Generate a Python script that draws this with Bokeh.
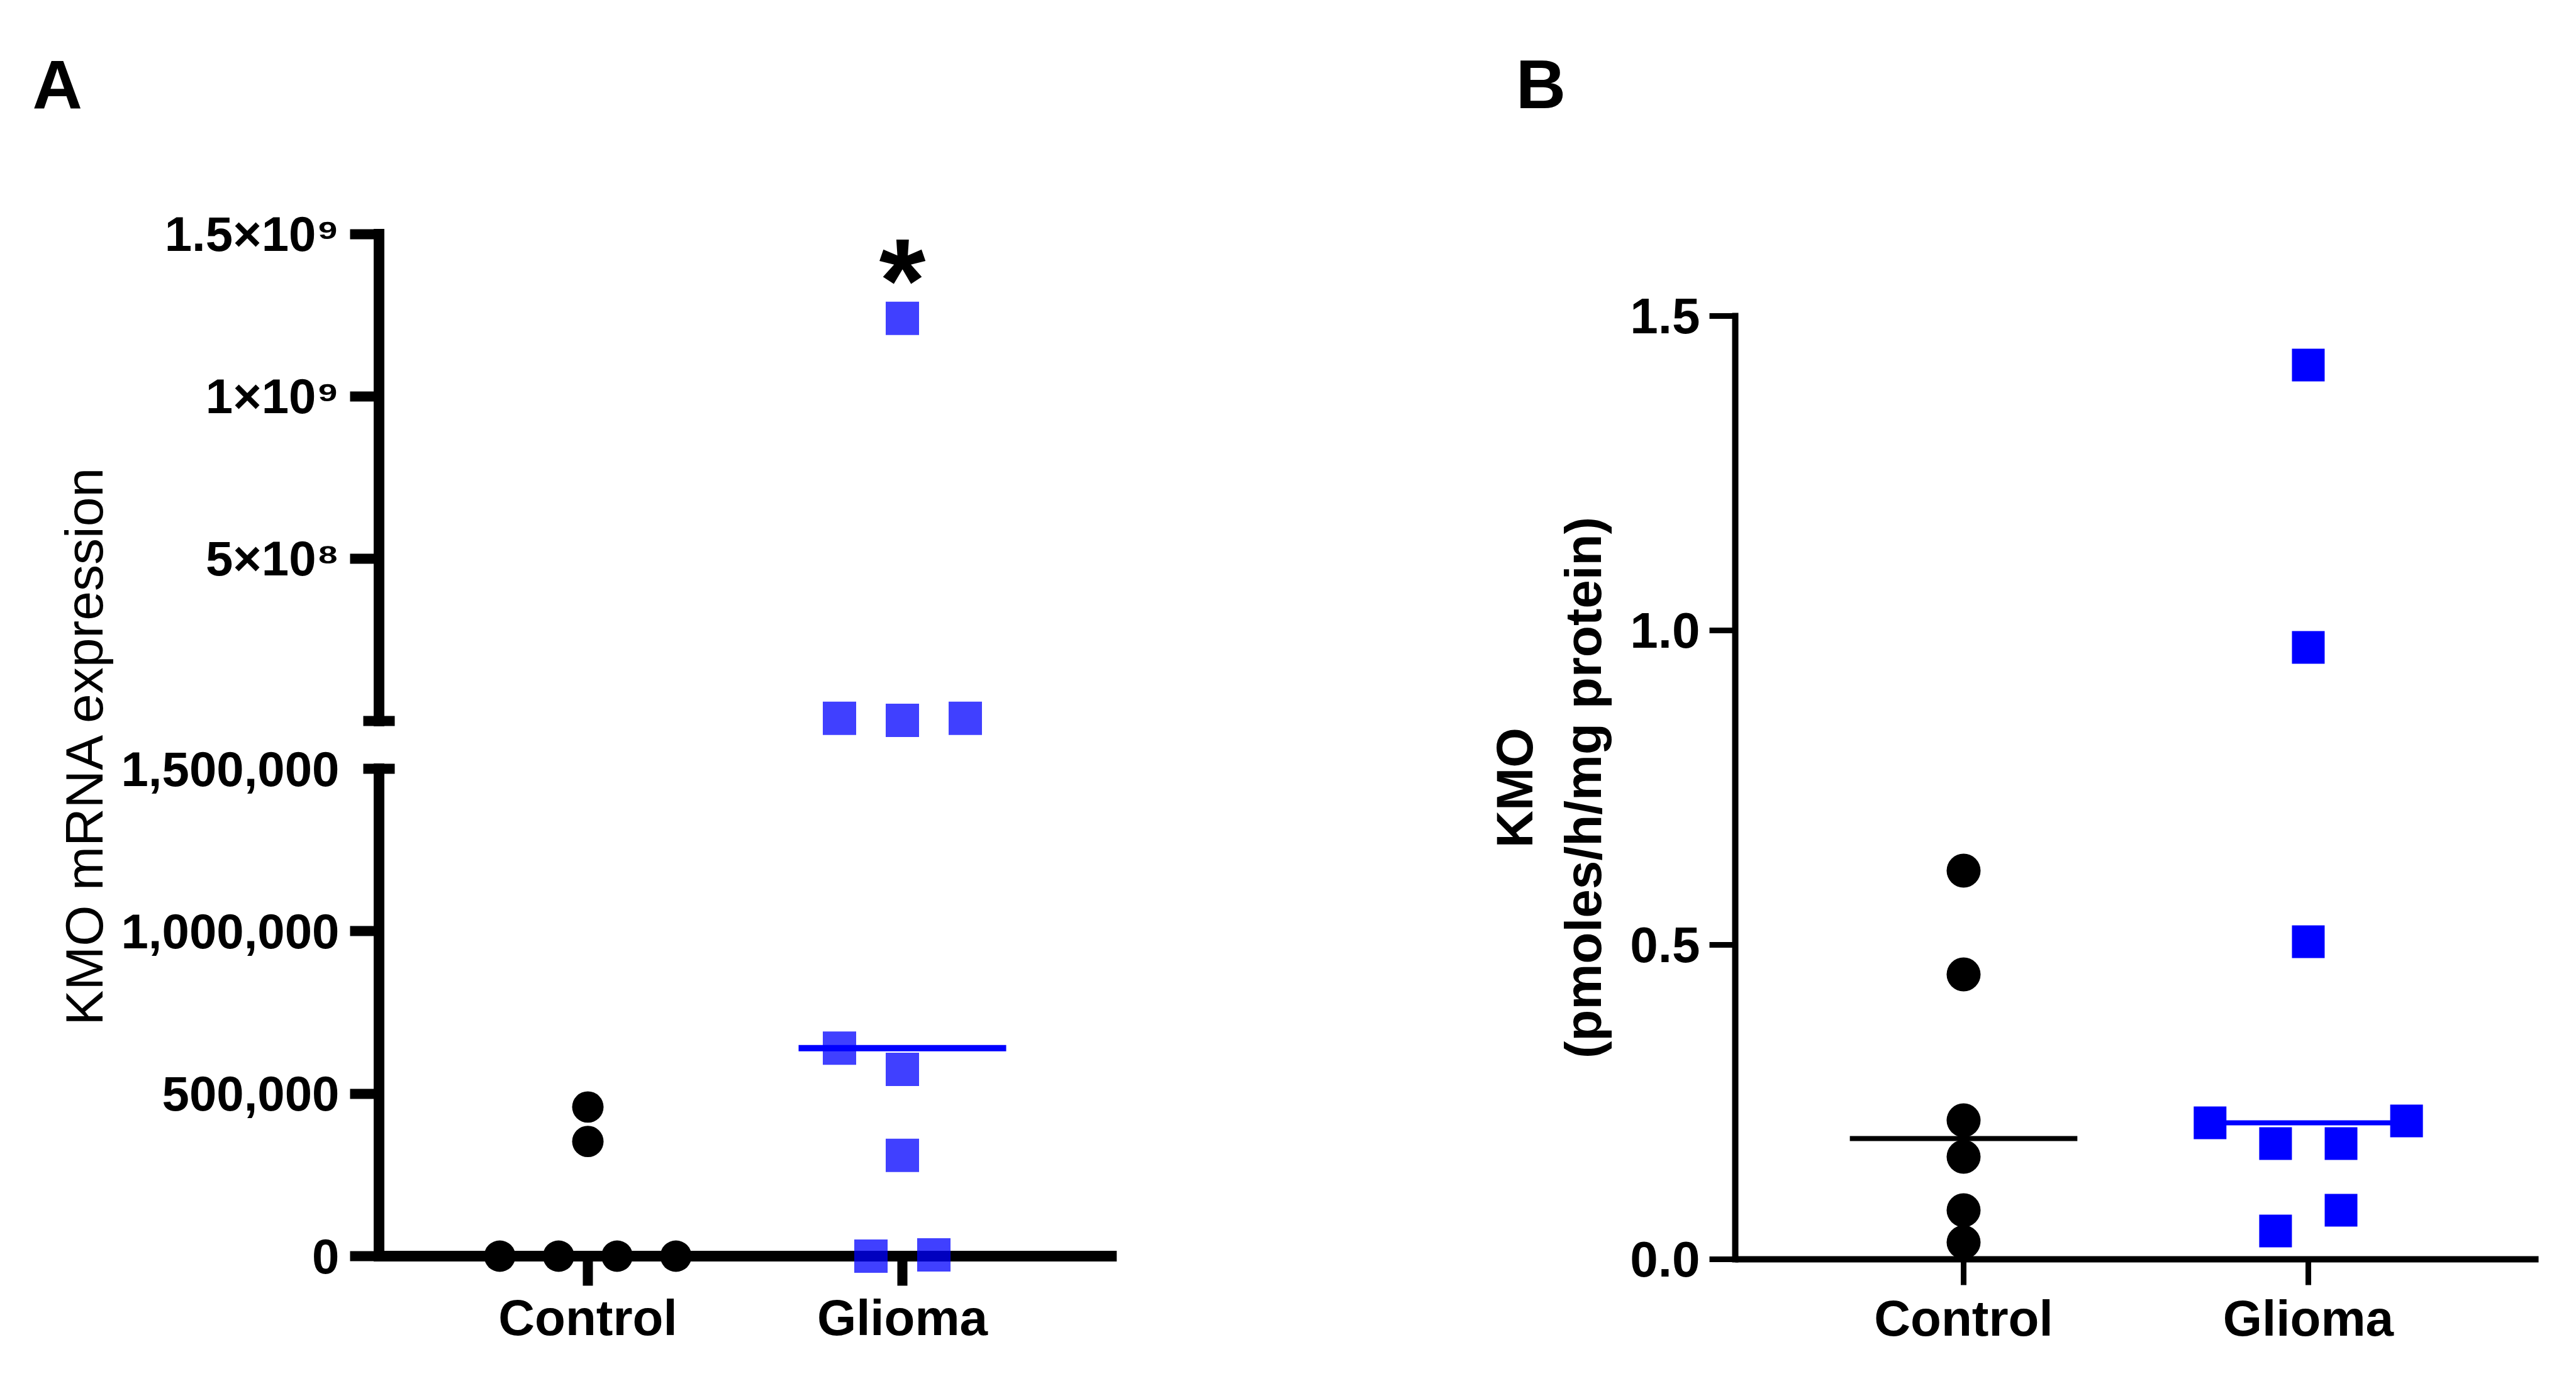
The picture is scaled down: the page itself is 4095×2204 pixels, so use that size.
import numpy as np
from bokeh.plotting import figure
from bokeh.models import (Range1d, LinearAxis, FixedTicker, NumeralTickFormatter,
                          PrintfTickFormatter, Label, ColumnDataSource, Plot)
from bokeh.core.properties import value
from bokeh.layouts import row
from bokeh.embed import file_html
from bokeh.resources import INLINE

FONT = "Liberation Sans"
BLUE = "#0000FF"

# ---------------- data ----------------
categories = ["Control", "Glioma"]

# Panel A (broken y axis)
a_control_values = [0, 0, 0, 0, 353000, 459000]
a_control_offsets = [-0.28, -0.093, 0.093, 0.28, 0.0, 0.0]
a_glioma_upper_values = [1.241e9, 8e6, 2e6, 8e6]
a_glioma_upper_offsets = [0.0, -0.2, 0.0, 0.2]
a_glioma_lower_values = [640000, 575000, 310000, 0, 4000]
a_glioma_lower_offsets = [-0.2, 0.0, 0.0, -0.1, 0.1]
a_lower_ticks = [0, 500000, 1000000]
a_break_low = 1500000
a_break_up = 0
a_upper_ticks = [5e8, 1e9, 1.5e9]
a_upper_tick_labels = ["5×10⁸", "1×10⁹", "1.5×10⁹"]

# Panel B
b_control_values = [0.618, 0.453, 0.221, 0.163, 0.078, 0.027]
b_glioma_values = [1.422, 0.973, 0.505, 0.217, 0.184, 0.184, 0.220, 0.045, 0.078]
b_glioma_offsets = [0, 0, 0, -0.285, -0.095, 0.095, 0.285, -0.095, 0.095]
b_ticks = [0.0, 0.5, 1.0, 1.5]

a_medians = [float(np.median(a_control_values)),
             float(np.median(a_glioma_upper_values + a_glioma_lower_values))]
b_medians = [float(np.median(b_control_values)), float(np.median(b_glioma_values))]
MED_HALF = 0.33

FA = {"frame_align": False} if "frame_align" in Plot.properties() else {}


def style_axis(ax, lw, tick_out, standoff, font_size):
    ax.axis_line_width = lw
    ax.axis_line_color = "black"
    ax.major_tick_line_width = lw - 1
    ax.major_tick_line_color = "black"
    ax.major_tick_out = tick_out
    ax.major_tick_in = 0
    ax.minor_tick_line_color = None
    ax.major_label_standoff = standoff
    ax.major_label_text_font = FONT
    ax.major_label_text_font_style = "bold"
    ax.major_label_text_font_size = font_size
    ax.major_label_text_color = "black"


# ---------------- Panel A ----------------
XA_AX = 0.336
XA_END = 2.682
pa = figure(width=2240, height=2177, x_range=Range1d(-0.788, XA_END),
            y_range=Range1d(-3.348e5, 3.7877e6), output_backend="svg",
            toolbar_location=None, min_border_left=40, min_border_right=465,
            min_border_top=40, min_border_bottom=7, **FA)
pa.extra_y_ranges = {"upper": Range1d(-1.9845e9, 2.1434e9)}
pa.outline_line_color = None
pa.xgrid.visible = False
pa.ygrid.visible = False

ya = pa.yaxis[0]
ya.fixed_location = XA_AX
ya.ticker = FixedTicker(ticks=a_lower_ticks)
ya.formatter = NumeralTickFormatter(format="0,0")
ya.bounds = (0, a_break_low)
style_axis(ya, 17, 46, 17, "78px")
ya.axis_line_cap = "square"

# lower break cap with its label
cap_low = LinearAxis(fixed_location=XA_AX, ticker=FixedTicker(ticks=[a_break_low]),
                     formatter=NumeralTickFormatter(format="0,0"))
style_axis(cap_low, 17, 25, 38, "78px")
cap_low.major_tick_in = 25
cap_low.axis_line_color = None
pa.add_layout(cap_low, "left")

# upper segment axis
ya_up = LinearAxis(y_range_name="upper", fixed_location=XA_AX,
                   ticker=FixedTicker(ticks=a_upper_ticks),
                   major_label_overrides=dict(zip(a_upper_ticks, a_upper_tick_labels)))
ya_up.bounds = (a_break_up, 1.5e9)
style_axis(ya_up, 17, 46, 17, "78px")
ya_up.axis_line_cap = "square"
pa.add_layout(ya_up, "left")

cap_up = LinearAxis(y_range_name="upper", fixed_location=XA_AX,
                    ticker=FixedTicker(ticks=[a_break_up]))
style_axis(cap_up, 17, 25, 10, "78px")
cap_up.major_tick_in = 25
cap_up.axis_line_color = None
cap_up.major_label_text_color = None
pa.add_layout(cap_up, "left")

# axis carrying the y title, spanning the whole broken axis
title_ax = LinearAxis(fixed_location=XA_AX, ticker=FixedTicker(ticks=[]),
                      bounds=(0, 3.145e6))
title_ax.axis_line_color = None
title_ax.major_tick_line_color = None
title_ax.minor_tick_line_color = None
title_ax.major_label_text_color = None
title_ax.major_tick_out = 0
title_ax.axis_label = "KMO mRNA expression"
title_ax.axis_label_text_font = FONT
title_ax.axis_label_text_font_style = "normal"
title_ax.axis_label_text_font_size = "84px"
title_ax.axis_label_text_color = "black"
title_ax.axis_label_standoff = 422
pa.add_layout(title_ax, "left")

xa = pa.xaxis[0]
xa.fixed_location = 0
xa.ticker = FixedTicker(ticks=[1, 2])
xa.major_label_overrides = {1: categories[0], 2: categories[1]}
xa.bounds = (XA_AX, XA_END)
style_axis(xa, 17, 47, 6, "80px")

src_ac = ColumnDataSource(dict(x=[1 + o for o in a_control_offsets], y=a_control_values))
r = pa.scatter("x", "y", source=src_ac, marker="circle", size=50,
               fill_color="black", line_color=None)
r.level = "overlay"

src_agl = ColumnDataSource(dict(x=[2 + o for o in a_glioma_lower_offsets], y=a_glioma_lower_values))
r = pa.scatter("x", "y", source=src_agl, marker="square", size=53,
               fill_color=BLUE, fill_alpha=0.75, line_color=None)
r.level = "overlay"

src_agu = ColumnDataSource(dict(x=[2 + o for o in a_glioma_upper_offsets], y=a_glioma_upper_values))
r = pa.scatter("x", "y", source=src_agu, marker="square", size=53,
               fill_color=BLUE, fill_alpha=0.75, line_color=None, y_range_name="upper")
r.level = "overlay"

src_am = ColumnDataSource(dict(x0=[1 - MED_HALF, 2 - MED_HALF], x1=[1 + MED_HALF, 2 + MED_HALF],
                               y=a_medians, c=["black", BLUE]))
r = pa.segment(x0="x0", x1="x1", y0="y", y1="y", source=src_am, line_color="c", line_width=10)
r.level = "overlay"

pa.add_layout(Label(x=-0.766, y=3.608e6, text="A", text_font=FONT, text_font_style="bold",
                    text_font_size="110px", text_align="left", text_baseline="alphabetic",
                    text_color="black"))
pa.add_layout(Label(x=2, y=1.36e9, y_range_name="upper", text="*", text_font=FONT,
                    text_font_style="bold", text_font_size="190px", text_align="center",
                    text_baseline="alphabetic", text_color="black"))

# ---------------- Panel B ----------------
XB0, XB1 = 0.3376, 2.668
pb = figure(width=1835, height=2177, x_range=Range1d(XB0, XB1), y_range=Range1d(0, 1.5),
            output_backend="svg", toolbar_location=None, min_border_left=518,
            min_border_right=40, min_border_top=502, min_border_bottom=175, **FA)
pb.outline_line_color = None
pb.xgrid.visible = False
pb.ygrid.visible = False

yb = pb.yaxis[0]
yb.ticker = FixedTicker(ticks=b_ticks)
yb.formatter = PrintfTickFormatter(format="%.1f")
style_axis(yb, 10, 41, 15, "80px")
yb.axis_line_cap = "square"
yb.axis_label = "KMO\n(pmoles/h/mg protein)"
yb.axis_label_text_font = FONT
yb.axis_label_text_font_style = "bold"
yb.axis_label_text_font_size = "82px"
yb.axis_label_text_color = "black"
yb.axis_label_standoff = 26

xb = pb.xaxis[0]
xb.ticker = FixedTicker(ticks=[1, 2])
xb.major_label_overrides = {1: categories[0], 2: categories[1]}
style_axis(xb, 10, 41, 8, "80px")

src_bc = ColumnDataSource(dict(x=[1.0] * len(b_control_values), y=b_control_values))
r = pb.scatter("x", "y", source=src_bc, marker="circle", size=54,
               fill_color="black", line_color=None)
r.level = "overlay"

src_bm = ColumnDataSource(dict(x0=[1 - MED_HALF, 2 - MED_HALF], x1=[1 + MED_HALF, 2 + MED_HALF],
                               y=b_medians, c=["black", BLUE]))
r = pb.segment(x0="x0", x1="x1", y0="y", y1="y", source=src_bm, line_color="c", line_width=8)
r.level = "overlay"

src_bg = ColumnDataSource(dict(x=[2 + o for o in b_glioma_offsets], y=b_glioma_values))
r = pb.scatter("x", "y", source=src_bg, marker="square", size=52,
               fill_color=BLUE, line_color=None)
r.level = "overlay"

src_blab = ColumnDataSource(dict(x=[-0.299], y=[1.869], t=["B"]))
r = pb.text(x="x", y="y", text="t", source=src_blab, text_font=value(FONT),
            text_font_style="bold", text_font_size="110px", text_align="left",
            text_baseline="alphabetic", text_color="black")
r.level = "overlay"

layout = row(pa, pb)
open("out.html", "w").write(file_html(layout, INLINE))
